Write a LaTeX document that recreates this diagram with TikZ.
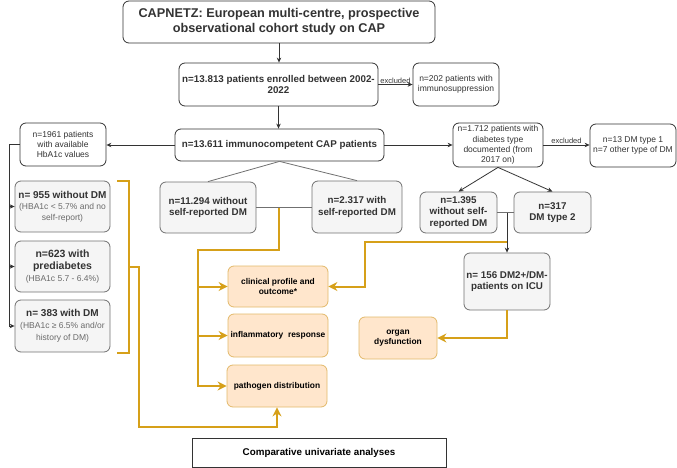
\documentclass[tikz,border=0pt]{standalone}
\usepackage{fontspec}
\setmainfont{Liberation Sans}
\usetikzlibrary{arrows.meta}
\definecolor{gold}{HTML}{D6A019}
\definecolor{gfill}{HTML}{F5F5F5}
\definecolor{gline}{HTML}{707070}
\definecolor{ofill}{HTML}{FFE6CC}
\definecolor{oline}{HTML}{E2B96A}
\definecolor{dark}{HTML}{333333}
\definecolor{txtgray}{HTML}{6A6A6A}
\newcommand\mybox[7]{\node[#1, minimum width={(#5-#3)*1pt}, minimum height={(#6-#4)*1pt}] (#2) at ({(#3+#5)/2},{(#4+#6)/2}) {#7};}
\newcommand\gtxt{\mdseries\fontsize{8.5}{10.3}\selectfont\color{txtgray}}
\tikzset{
 box/.style={rounded corners=6pt, inner sep=1pt, align=center, line width=0.8pt},
 whitebox/.style={box, draw=dark, fill=white, text=dark},
 graybox/.style={box, draw=gline, fill=gfill, text=dark},
 orangebox/.style={box, draw=oline, fill=ofill, text=black},
 plainbox/.style={draw=dark, fill=white, line width=0.8pt, text=black, inner sep=1pt},
 conn/.style={draw=dark, line width=0.8pt},
 arr/.style={conn, -{Stealth[length=5pt,width=4.5pt]}},
 goldline/.style={draw=gold, line width=2pt},
 goldarr/.style={goldline, -{Stealth[length=9pt,width=9pt,inset=3pt]}},
 bigb/.style={font=\fontsize{12.7}{15.2}\selectfont\bfseries},
 bld/.style={font=\fontsize{9.8}{11.5}\selectfont\bfseries},
 bldl/.style={font=\fontsize{10.5}{12}\selectfont\bfseries},
 sml/.style={font=\fontsize{8.5}{10.3}\selectfont},
 obld/.style={font=\fontsize{8.4}{10.5}\selectfont\bfseries},
 exl/.style={font=\fontsize{7.5}{9}\selectfont, text=dark, inner sep=1pt},
}
\begin{document}
\begin{tikzpicture}[x=1pt,y=-1pt]
\useasboundingbox (0,0) rectangle (677,468);
% boxes
\mybox{whitebox,bigb}{cap}{123}{1}{435}{43}{CAPNETZ: European multi-centre, prospective\\observational cohort study on CAP}
\mybox{whitebox,bld}{enr}{179}{63}{378}{106}{n=13.813 patients enrolled between 2002-\\2022}
\mybox{whitebox,sml}{imm202}{413}{63}{499}{106}{n=202 patients with\\immunosuppression}
\mybox{whitebox,bld}{cap611}{175}{129}{384}{161}{n=13.611 immunocompetent CAP patients}
\mybox{whitebox,sml}{hba}{20}{123}{106}{166}{n=1961 patients\\with available\\HbA1c values}
\mybox{whitebox,sml}{dm1712}{453}{123}{543}{167}{n=1.712 patients with\\diabetes type\\documented (from\\2017 on)}
\mybox{whitebox,sml}{excl13}{590}{124}{676}{167}{n=13 DM type 1\\n=7 other type of DM}
\mybox{graybox,bld,font=\fontsize{10}{11}\selectfont\bfseries}{no955}{15}{181}{110}{232}{n= 955 without DM\\{\gtxt (HBA1c < 5.7\% and no}\\{\gtxt self-report)}}
\mybox{graybox,bldl}{pre623}{15}{241}{110}{292}{n=623 with\\prediabetes\\{\gtxt (HBA1c 5.7 - 6.4\%)}}
\mybox{graybox,bld,font=\fontsize{10}{12}\selectfont\bfseries}{dm383}{15}{300}{110}{352}{n= 383 with DM\\{\gtxt (HBA1c ≥ 6.5\% and/or}\\{\gtxt history of DM)}}
\mybox{graybox,bld}{w11294}{160}{182}{256}{233}{n=11.294 without\\self-reported DM}
\mybox{graybox,bld}{w2317}{312}{181}{402}{233}{n=2.317 with\\self-reported DM}
\mybox{graybox,bld}{w1395}{420}{192}{497}{233}{n=1.395\\without self-\\reported DM}
\mybox{graybox,bld}{w317}{514}{192}{591}{233}{n=317\\DM type 2}
\mybox{graybox,bld}{icu156}{464}{253}{550}{310}{n= 156 DM2+/DM-\\patients on ICU}
\mybox{orangebox,obld}{clin}{228}{266}{328}{307}{clinical profile and\\outcome*}
\mybox{orangebox,obld}{infl}{228}{314}{328}{357}{inflammatory\ \ response}
\mybox{orangebox,obld}{path}{227}{365}{327}{407}{pathogen distribution}
\mybox{orangebox,obld}{organ}{359}{317}{437}{359}{organ\\dysfunction}
\mybox{plainbox,bld}{comp}{192}{438}{446}{467}{Comparative univariate analyses}
% black connectors
\draw[arr] (cap.south) -- (cap.south |- enr.north);
\draw[arr] (enr.east) -- (imm202.west) node[midway, above, exl] (ex1) {excluded};
\draw[arr] (enr.south) -- (enr.south |- cap611.north);
\draw[arr] (cap611.west) -- (cap611.west -| hba.east);
\draw[arr] (cap611.east) -- (cap611.east -| dm1712.west);
\draw[arr] (dm1712.east) -- (dm1712.east -| excl13.west) node[midway, above, exl] (ex2) {excluded};
\draw[arr] (hba.west) -- ++(-10,0) coordinate (lcorner) |- (dm383.west);
\draw[arr] (lcorner |- no955.west) -- (no955.west);
\draw[arr] (lcorner |- pre623.west) -- (pre623.west);
\draw[conn, draw=gline] (cap611.south) -- (w11294.north);
\draw[conn, draw=gline] (cap611.south) -- (w2317.north);
\draw[conn, draw=gline] (w11294.east) -- (w11294.east -| w2317.west);
\draw[arr] (dm1712.south) -- (w1395.north);
\draw[arr] (dm1712.south) -- (w317.north);
\draw[conn, draw=gline] (w1395.east) -- (w317.west);
\coordinate (rm) at (507,212.5);
\draw[arr] (rm) -- (rm |- icu156.north);
% gold connectors
\coordinate (gm) at (279,207.5);
\coordinate (gbus) at (198,250);
\draw[goldarr] (gm) |- (gbus) |- (path.west);
\draw[goldarr] (gbus |- clin.west) -- (clin.west);
\draw[goldarr] (gbus |- infl.west) -- (infl.west);
\coordinate (rg) at (507,242);
\coordinate (rg2) at (365,242);
\draw[goldarr] (rg) -- (rg2) |- (clin.east);
\draw[goldarr] (icu156.south) |- (organ.east);
\coordinate (bt) at (117,181);
\coordinate (bb) at (117,353);
\draw[goldline] (bt) -- ++(12,0) -- ++(0,172) -- (bb);
\coordinate (bm) at (129,267);
\coordinate (bl) at (139,427);
\draw[goldarr] (bm) -| (bl) -| (path.south);
\end{tikzpicture}
\end{document}
